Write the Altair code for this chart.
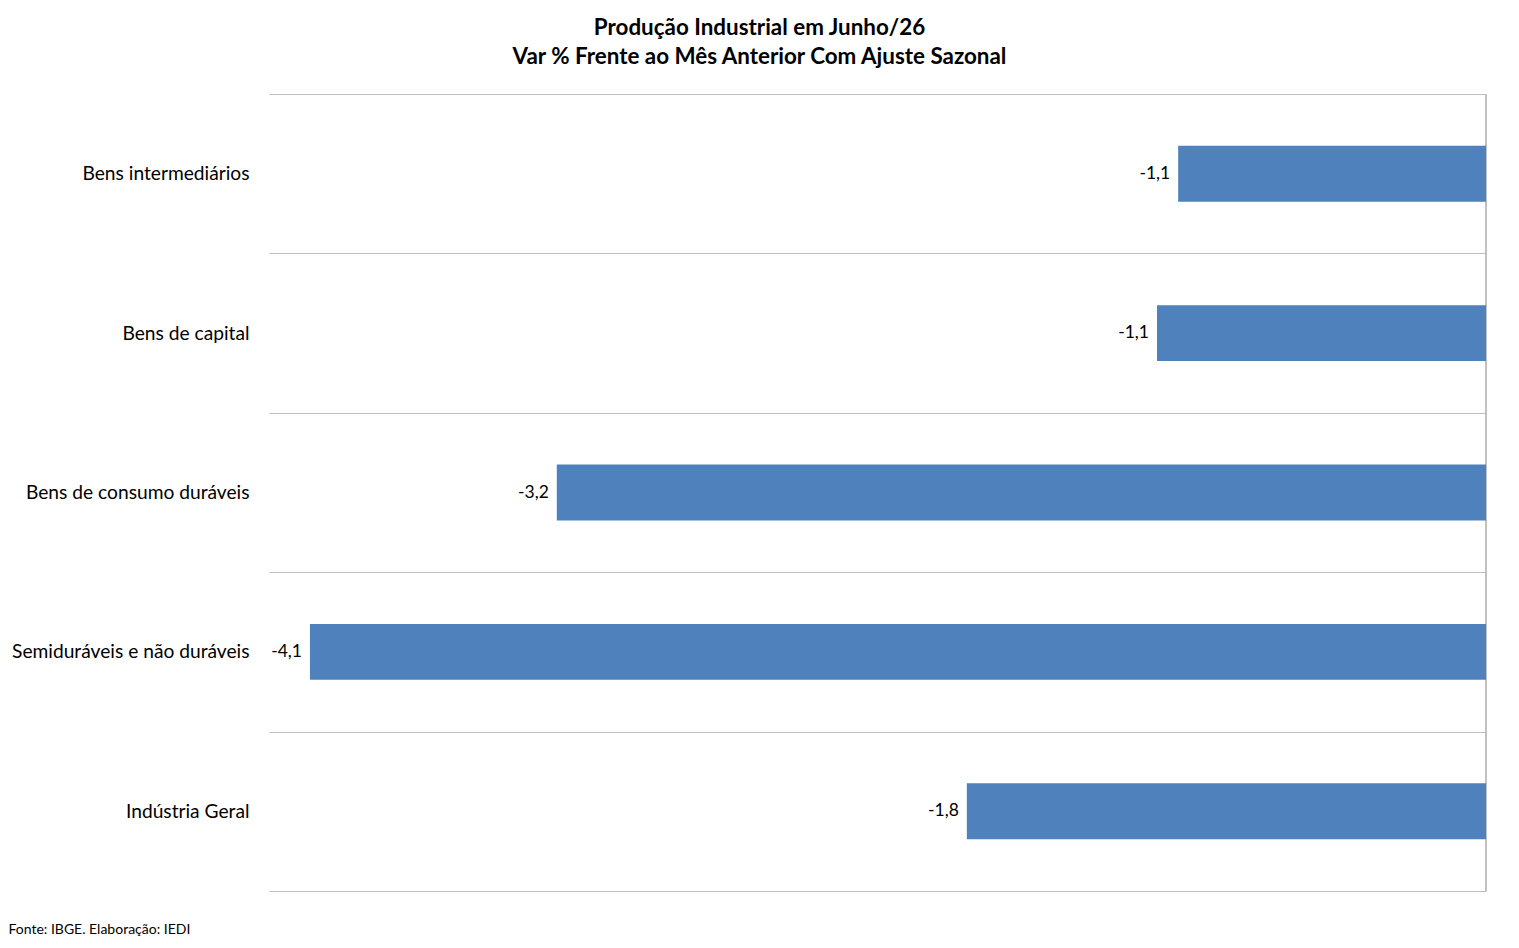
import altair as alt
import pandas as pd

categories = [
    "Bens intermediários",
    "Bens de capital",
    "Bens de consumo duráveis",
    "Semiduráveis e não duráveis",
    "Indústria Geral",
]
values = [-1.075, -1.149, -3.245, -4.107, -1.813]

df = pd.DataFrame({"categoria": categories, "valor": values})
df["rotulo"] = [f"{v:.1f}".replace(".", ",") for v in values]

FONT = "Lato"
GRID = "#bfbfbf"

y_enc = alt.Y(
    "categoria:N",
    sort=categories,
    title=None,
    scale=alt.Scale(paddingInner=0, paddingOuter=0),
    axis=alt.Axis(
        grid=True,
        tickBand="extent",
        gridColor=GRID,
        gridWidth=1,
        ticks=False,
        domain=False,
        labelFont=FONT,
        labelFontSize=19.2,
        labelColor="black",
        labelPadding=20,
        labelLimit=400,
    ),
)

x_enc = alt.X(
    "valor:Q",
    scale=alt.Scale(domain=[-4.25, 0], nice=False),
    axis=alt.Axis(
        grid=False,
        ticks=False,
        labels=False,
        domain=False,
        title="Fonte: IBGE. Elaboração: IEDI",
        titleFont=FONT,
        titleFontSize=14,
        titleFontWeight="normal",
        titleColor="black",
        titleAnchor="start",
        titleAlign="left",
        titleBaseline="middle",
        titleX=-261,
        titleY=38,
    ),
)

bars = alt.Chart(df).mark_bar(color="#4f81bd", height={"band": 0.351}).encode(
    x=x_enc, y=y_enc
)

zero_line = alt.Chart(df).mark_rule(color=GRID, strokeWidth=1).encode(
    x=alt.datum(0)
)

labels = alt.Chart(df).mark_text(
    align="right", baseline="middle", dx=-8, font=FONT, fontSize=17.5, color="black"
).encode(x=x_enc, y=y_enc, text="rotulo:N")

chart = (
    alt.layer(zero_line, bars, labels)
    .properties(
        width=1217,
        height=797,
        autosize=alt.AutoSizeParams(type="none"),
        padding={"left": 261, "top": 86, "right": 25, "bottom": 46},
        view=alt.ViewBackground(strokeOpacity=0, strokeWidth=0),
        title=alt.TitleParams(
            ["Produção Industrial em Junho/26", "Var % Frente ao Mês Anterior Com Ajuste Sazonal"],
            font=FONT,
            fontSize=22.4,
            fontWeight="bold",
            color="black",
            anchor="middle",
            frame="group",
            dx=-118,
            offset=17,
            lineHeight=29,
        ),
    )
    .configure_view(stroke=None, strokeOpacity=0, strokeWidth=0)
    .configure(background="white")
)

chart.save("out.html", embed_options={"renderer": "svg", "actions": False})
